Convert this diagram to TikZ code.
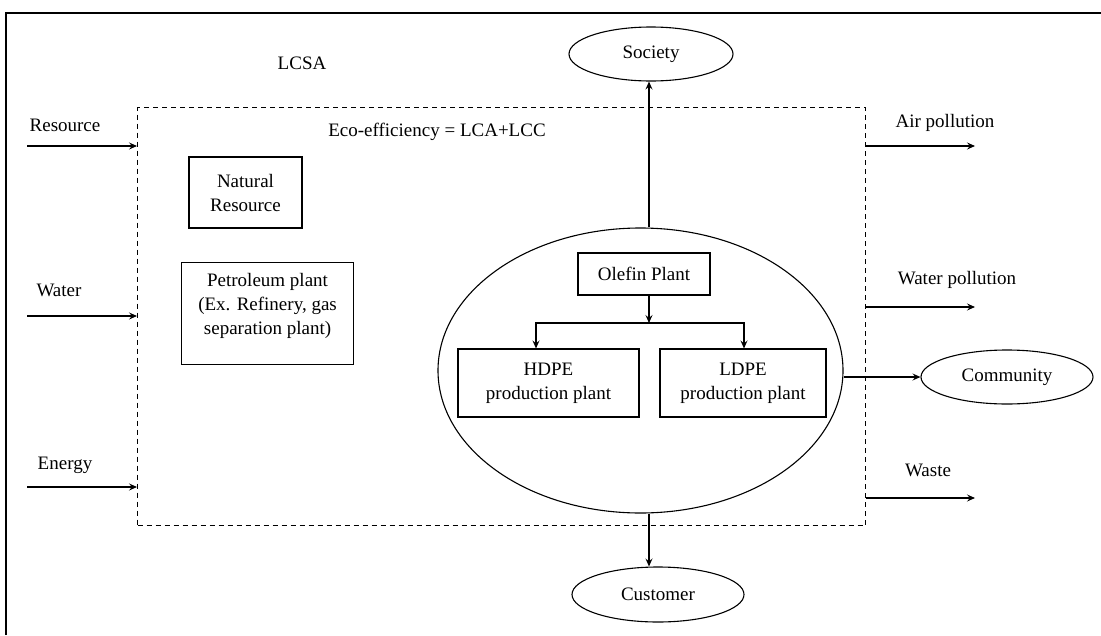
\documentclass[tikz,border=0pt]{standalone}
\usepackage{fontspec}
\setmainfont{Liberation Serif}
\usetikzlibrary{shapes.geometric,arrows.meta}
\begin{document}
\begin{tikzpicture}[x=1pt,y=-1pt,
  every node/.style={font=\fontsize{19}{24}\selectfont},
  box/.style={draw,line width=1.1pt,inner sep=0pt,align=center},
  oval/.style={draw,ellipse,line width=1.1pt,inner sep=0pt},
  flow/.style={line width=1.1pt,-{Stealth[length=8pt,width=7pt,inset=3pt]}},
  txt/.style={inner sep=0pt}]
\useasboundingbox (0,0) rectangle (1101,635);
% outer frame
\draw[line width=1.5pt] (6,635) -- (6,13) -- (1101,13);

% system boundary
\node[draw,line width=1.1pt,dash pattern=on 5pt off 4pt,inner sep=0pt,
      minimum width=728pt,minimum height=418pt,anchor=north west] (eco) at (137,107) {};

% titles
\node[txt] (lcsa) at (302,63) {LCSA};
\node[txt] (ecot) at (437,132) {Eco-efficiency = LCA+LCC};

% boxes on the left
\node[box,minimum width=113pt,minimum height=71pt] (nat) at (245.5,192.5) {Natural\\Resource};
\node[box,anchor=north west] (pet) at (181,262)
  {\parbox[t][102pt][t]{172pt}{\centering\rule{0pt}{24pt}Petroleum plant\\(Ex. Refinery, gas\\separation plant)}};

% central process
\node[oval,minimum width=405pt,minimum height=285pt] (big) at (640.5,370.5) {};
\node[box,minimum width=132pt,minimum height=42pt] (ole) at (644,274) {Olefin Plant};
\node[box,minimum width=181pt,minimum height=68pt] (hdpe) at (548.5,383) {HDPE\\production plant};
\node[box,minimum width=166pt,minimum height=68pt] (ldpe) at (743,383) {LDPE\\production plant};
\coordinate (j) at (649,323);
\coordinate (jl) at (536,323);
\coordinate (jr) at (744,323);
\draw[flow] (ole.south -| j) -- (j);
\draw[flow] (j) -- (jl) -- (jl |- hdpe.north);
\draw[flow] (j) -- (jr) -- (jr |- ldpe.north);

% stakeholders
\node[oval,minimum width=164pt,minimum height=54pt] (soc) at (651,54) {Society};
\node[oval,minimum width=172pt,minimum height=55pt] (cus) at (658,594.5) {Customer};
\node[oval,minimum width=172pt,minimum height=54pt] (com) at (1007,377) {Community};
\draw[flow] (j |- big.north) -- (j |- soc.south);
\draw[flow] (j |- big.south) -- (j |- cus.north);
\draw[flow] (big.east |- com) -- (com.west);

% inputs
\node[txt] (res) at (65,125) {Resource};
\node[txt] (wat) at (59,290) {Water};
\node[txt] (ene) at (65,465) {Energy};
\coordinate (res0) at (27,146);
\coordinate (wat0) at (27,316);
\coordinate (ene0) at (27,487);
\draw[flow] (res0) -- (eco.west |- res0);
\draw[flow] (wat0) -- (eco.west |- wat0);
\draw[flow] (ene0) -- (eco.west |- ene0);

% outputs
\node[txt] (air) at (945,123) {Air pollution};
\node[txt] (wpol) at (957,280) {Water pollution};
\node[txt] (was) at (928,470) {Waste};
\coordinate (air1) at (975,146);
\coordinate (wpol1) at (975,307);
\coordinate (was1) at (975,498);
\draw[flow] (eco.east |- air1) -- (air1);
\draw[flow] (eco.east |- wpol1) -- (wpol1);
\draw[flow] (eco.east |- was1) -- (was1);
\end{tikzpicture}
\end{document}
